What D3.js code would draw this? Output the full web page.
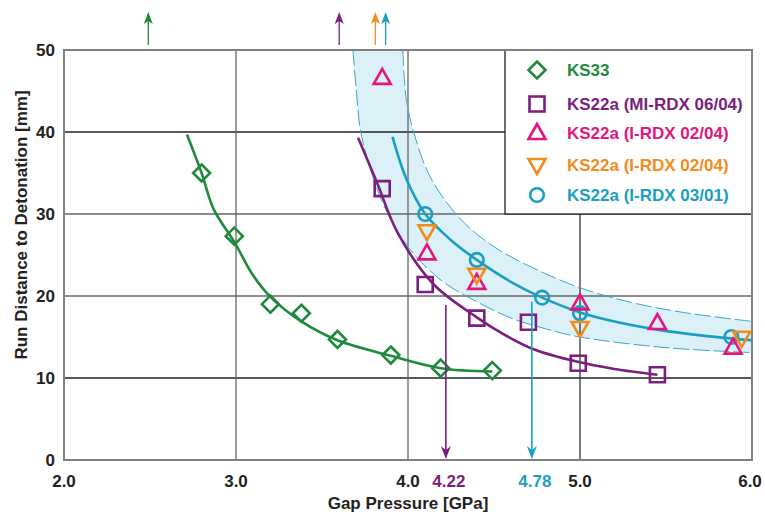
<!DOCTYPE html>
<html><head><meta charset="utf-8">
<script src="https://cdn.jsdelivr.net/npm/d3@7"></script>
<style>
html,body{margin:0;padding:0;background:#fff;}
text{font-family:"Liberation Sans",Arial,Helvetica,sans-serif;font-weight:bold;}
</style></head>
<body><svg id="c" width="765" height="514"></svg>
<script>
// ---- data ----
const xTicks = [2, 3, 4, 5, 6];
const xTickLabels = ["2.0", "3.0", "4.0", "5.0", "6.0"];
const yTicks = [0, 10, 20, 30, 40, 50];
const yTickLabels = ["0", "10", "20", "30", "40", "50"];

const seriesNames = ["KS33", "KS22a (MI-RDX 06/04)", "KS22a (I-RDX 02/04)", "KS22a (I-RDX 02/04)", "KS22a (I-RDX 03/01)"];

const ks33 = [[2.80,35.0],[2.99,27.3],[3.20,19.0],[3.38,17.9],[3.59,14.7],[3.90,12.8],[4.19,11.2],[4.49,10.9]];
const ks33Fit = [[2.715,39.7],[2.80,35.0],[2.87,30.6],[2.99,26.6],[3.10,22.5],[3.20,19.9],[3.38,16.9],[3.59,14.6],[3.90,12.7],[4.19,11.2],[4.49,10.8]];

const miRdx = [[3.85,33.1],[4.10,21.4],[4.40,17.3],[4.70,16.8],[4.99,11.8],[5.45,10.4]];
const miRdxFit = [[3.71,39.3],[3.82,33.8],[3.94,27.7],[4.15,21.4],[4.40,17.4],[4.55,15.4],[4.73,13.5],[4.98,12.0],[5.20,11.1],[5.45,10.4]];

const iRdx0204a = [[3.85,46.6],[4.11,25.2],[4.40,21.6],[5.00,19.1],[5.45,16.7],[5.89,13.7]];
const iRdx0204b = [[4.11,27.9],[4.40,22.6],[5.00,16.1],[5.94,14.9]];
const iRdx0301 = [[4.10,30.0],[4.40,24.4],[4.78,19.8],[5.00,17.9],[5.88,15.0]];
const iRdxFit = [[3.91,39.4],[3.99,34.3],[4.10,30.0],[4.25,26.8],[4.40,24.4],[4.60,21.7],[4.78,19.8],[5.00,18.0],[5.20,16.9],[5.45,15.9],[5.70,15.2],[6.00,14.6]];

const bandUpper = [[3.97,50],[3.99,44],[4.04,39.5],[4.13,34.5],[4.30,29.5],[4.50,26.0],[4.75,23.2],[5.00,21.0],[5.30,19.2],[5.60,18.0],[6.00,16.9]];
const bandLower = [[3.68,50],[3.70,45],[3.73,39.5],[3.85,31.5],[4.00,26.0],[4.20,21.8],[4.40,19.3],[4.60,17.3],[4.80,16.0],[5.00,15.0],[5.50,13.7],[6.00,13.1]];

const topArrowX = [2.49, 3.60, 3.81, 3.87];
const topArrowSeries = [0, 1, 3, 4];
const bottomArrowX = [4.22, 4.72];
const bottomArrowFrom = [18.9, 19.3];
const bottomArrowLabels = ["4.22", "4.78"];
const bottomArrowSeries = [1, 4];

// ---- styles ----
const colors = ["#1f8a3c", "#7b1f7f", "#e2167e", "#f28c1c", "#1a9fc0"];
const bandFill = "#dcf0f8";
const FS = 17;

const svg = d3.select("#c");
const x = d3.scaleLinear().domain([2, 6]).range([64, 752]);
const y = d3.scaleLinear().domain([0, 50]).range([460, 50]);

svg.append("defs").append("clipPath").attr("id","plot")
  .append("rect").attr("x",64).attr("y",50).attr("width",688).attr("height",410);

const line = d3.line().x(d=>x(d[0])).y(d=>y(d[1])).curve(d3.curveCatmullRom.alpha(0.5));

// band
const gBand = svg.append("g").attr("clip-path","url(#plot)");
const up = line(bandUpper);
const lo = line(bandLower.slice().reverse());
gBand.append("path").attr("d", up + "L" + lo.slice(1) + "Z").attr("fill", bandFill);

// grid
const gridDark = [10, 40];
const g = svg.append("g");
yTicks.filter(v=>v>0 && v<50).forEach(v=>{
  g.append("line").attr("x1",x(2)).attr("x2",x(6)).attr("y1",y(v)).attr("y2",y(v))
   .attr("stroke", gridDark.includes(v) ? "#222" : "#666").attr("stroke-width",1.3);
});
xTicks.filter(v=>v>2 && v<6).forEach(v=>{
  g.append("line").attr("x1",x(v)).attr("x2",x(v)).attr("y1",y(0)).attr("y2",y(50))
   .attr("stroke", v===5 ? "#333" : "#666").attr("stroke-width",1.3);
});

// dashed band edges
const gDash = svg.append("g").attr("clip-path","url(#plot)");
[bandUpper, bandLower].forEach(d=>{
  gDash.append("path").attr("d", line(d)).attr("fill","none")
    .attr("stroke","#3aa6c6").attr("stroke-width",1).attr("stroke-dasharray","16,4");
});

// legend box (white, covers grid)
const lg = svg.append("g");
lg.append("rect").attr("x",505).attr("y",50).attr("width",247).attr("height",164)
  .attr("fill","#fff").attr("stroke","#222").attr("stroke-width",1.3);

// frame
svg.append("rect").attr("x",x(2)).attr("y",y(50)).attr("width",x(6)-x(2)).attr("height",y(0)-y(50))
  .attr("fill","none").attr("stroke","#808080").attr("stroke-width",2);

// fitted curves
const gc = svg.append("g");
[[ks33Fit,0],[miRdxFit,1],[iRdxFit,4]].forEach(([d,i])=>{
  gc.append("path").attr("d", line(d)).attr("fill","none").attr("stroke",colors[i]).attr("stroke-width",2.6);
});

// marker shapes
function marker(sel, type, cx, cy, col){
  if(type===4){
    sel.append("circle").attr("cx",cx).attr("cy",cy).attr("r",6.8)
      .attr("fill","none").attr("stroke",col).attr("stroke-width",2.6); return;
  }
  let d;
  if(type===0){ const r=8.5; d=`M${cx},${cy-r}L${cx+r},${cy}L${cx},${cy+r}L${cx-r},${cy}Z`; }
  else if(type===1){ const r=7.5; d=`M${cx-r},${cy-r}H${cx+r}V${cy+r}H${cx-r}Z`; }
  else if(type===2){ d=`M${cx},${cy-9}L${cx+8.5},${cy+6}L${cx-8.5},${cy+6}Z`; }
  else { d=`M${cx},${cy+9}L${cx+8.5},${cy-6}L${cx-8.5},${cy-6}Z`; }
  sel.append("path").attr("d",d).attr("fill","none").attr("stroke",col).attr("stroke-width",2.6);
}

const gm = svg.append("g");
const allSeries = [ks33, miRdx, iRdx0204a, iRdx0204b, iRdx0301];
[0,1,4,2,3].forEach(i=>{
  allSeries[i].forEach(p=>marker(gm, i, x(p[0]), y(p[1]), colors[i]));
});

// legend entries
const legendY = [70, 104, 133, 165, 195];
seriesNames.forEach((n,i)=>{
  marker(lg, i, 537, legendY[i], colors[i]);
  lg.append("text").attr("x",567).attr("y",legendY[i]).attr("dy","0.36em")
    .attr("font-size",FS).attr("fill",colors[i]).text(n);
});

// top arrows
const ga = svg.append("g");
topArrowX.forEach((v,i)=>{
  const c = colors[topArrowSeries[i]], px = x(v);
  ga.append("line").attr("x1",px).attr("x2",px).attr("y1",45).attr("y2",20).attr("stroke",c).attr("stroke-width",1.3);
  ga.append("path").attr("d",`M${px},12L${px+4.5},24L${px},21L${px-4.5},24Z`).attr("fill",c);
});
// bottom arrows
bottomArrowX.forEach((v,i)=>{
  const c = colors[bottomArrowSeries[i]], px = x(v);
  ga.append("line").attr("x1",px).attr("x2",px).attr("y1",y(bottomArrowFrom[i])).attr("y2",y(0)-6).attr("stroke",c).attr("stroke-width",1.6);
  ga.append("path").attr("d",`M${px},${y(0)-1}L${px+5},${y(0)-14}L${px},${y(0)-10}L${px-5},${y(0)-14}Z`).attr("fill",c);
  svg.append("text").attr("x",px+3).attr("y",487).attr("text-anchor","middle")
    .attr("font-size",FS).attr("fill",c).text(bottomArrowLabels[i]);
});

// tick labels
xTicks.forEach((v,i)=>{
  svg.append("text").attr("x",x(v) - (v===6 ? 2 : 0)).attr("y",487).attr("text-anchor","middle")
    .attr("font-size",FS).attr("fill","#222").text(xTickLabels[i]);
});
yTicks.forEach((v,i)=>{
  svg.append("text").attr("x",55).attr("y",y(v)).attr("dy","0.36em").attr("text-anchor","end")
    .attr("font-size",FS).attr("fill","#222").text(yTickLabels[i]);
});

// axis titles
svg.append("text").attr("x",408).attr("y",509).attr("text-anchor","middle")
  .attr("font-size",FS).attr("fill","#222").text("Gap Pressure [GPa]");
svg.append("text").attr("transform","translate(27,225) rotate(-90)").attr("text-anchor","middle")
  .attr("font-size",FS).attr("fill","#222").text("Run Distance to Detonation [mm]");
</script></body></html>
